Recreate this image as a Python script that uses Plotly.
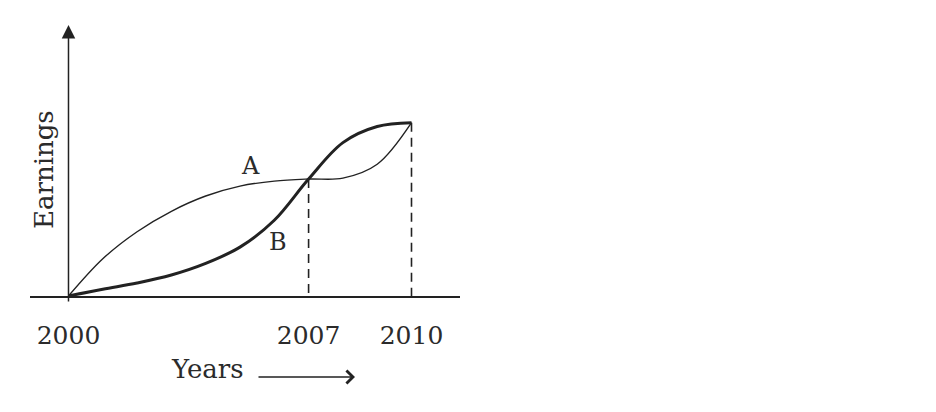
import plotly.graph_objects as go

years = [2000, 2001, 2002, 2003, 2004, 2005, 2006, 2007, 2008, 2009, 2010]
earn_a = [0, 2.15, 3.71, 4.89, 5.77, 6.34, 6.63, 6.75, 6.8, 7.6, 10]
earn_b = [0, 0.39, 0.75, 1.21, 1.88, 2.82, 4.37, 6.75, 8.85, 9.78, 10]
tick_years = [2000, 2007, 2010]
tick_labels = ["2000", "2007", "2010"]
mark_years = [2007, 2010]

W, H = 936, 412
OFF = 8  # page body margin
ink = "#222222"
txt = "#2b2b2b"
serif = "DejaVu Serif, Liberation Serif, serif"


def px(x):
    return (x - OFF) / W


def py(y):
    return 1 - (y - OFF) / H


fig = go.Figure()
fig.add_trace(go.Scatter(x=years, y=earn_a, mode="lines",
                         line=dict(color=ink, width=1.4, shape="spline", smoothing=1.0),
                         showlegend=False, hoverinfo="skip"))
fig.add_trace(go.Scatter(x=years, y=earn_b, mode="lines",
                         line=dict(color=ink, width=3, shape="spline", smoothing=1.0),
                         showlegend=False, hoverinfo="skip"))

for yr in mark_years:
    v = earn_b[years.index(yr)]
    fig.add_trace(go.Scatter(x=[yr, yr], y=[v, 0], mode="lines",
                             line=dict(color=ink, width=1.6, dash="9px,6px"),
                             showlegend=False, hoverinfo="skip", cliponaxis=False))

fig.update_layout(
    width=W, height=H,
    margin=dict(l=0, r=0, t=0, b=0),
    paper_bgcolor="white", plot_bgcolor="white",
    xaxis=dict(domain=[px(30), px(460)], range=[1998.878, 2011.414], showgrid=False, zeroline=False,
               showline=True, linecolor=ink, linewidth=1.6, tickvals=tick_years, ticktext=tick_labels,
               ticks="", ticklabelstandoff=16, tickfont=dict(family=serif, size=25, color=txt)),
    yaxis=dict(domain=[py(296), py(30)], range=[0, 15.35], showgrid=False, zeroline=False,
               showline=False, showticklabels=False, ticks=""),
    annotations=[
        dict(x=2000, xref="x", y=py(25), yref="paper", text="", showarrow=True, ax=0, ay=278,
             xanchor="center", yanchor="middle", font=dict(size=1),
             arrowhead=2, arrowsize=1.8, arrowwidth=1.5, arrowcolor=ink, standoff=0),
        dict(x=px(44), y=py(170), xref="paper", yref="paper", text="Earnings", textangle=-90,
             xanchor="center", yanchor="middle",
             showarrow=False, font=dict(family=serif, size=26, color=txt)),
        dict(x=px(207), y=py(369), xref="paper", yref="paper", text="Years",
             xanchor="center", yanchor="middle",
             showarrow=False, font=dict(family=serif, size=26, color=txt)),
        dict(x=px(355), y=py(377), xref="paper", yref="paper", text="", showarrow=True, ax=-98, ay=0,
             xanchor="center", yanchor="middle", font=dict(size=1),
             arrowhead=4, arrowsize=1.8, arrowwidth=1.4, arrowcolor=ink, standoff=0),
        dict(x=2005.32, y=7.5, text="A", showarrow=False, xanchor="center", yanchor="middle",
             font=dict(family=serif, size=24, color=txt)),
        dict(x=2006.11, y=3.12, text="B", showarrow=False, xanchor="center", yanchor="middle",
             font=dict(family=serif, size=24, color=txt)),
    ],
)

fig.write_html("out.html")
